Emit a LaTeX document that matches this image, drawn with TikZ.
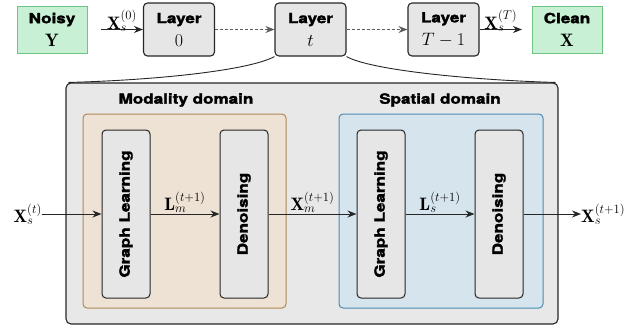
\documentclass[tikz,border=0pt]{standalone}
\usepackage{fix-cm}
\usepackage{fontspec}
\usepackage{amsmath}
\setsansfont[FakeStretch=1.22, BoldFeatures={FakeBold=2}]{TeX Gyre Heros}
\usetikzlibrary{arrows.meta}
\definecolor{gfill}{HTML}{C8F0D4}
\definecolor{gdraw}{HTML}{6CC485}
\definecolor{boxfill}{HTML}{E6E6E6}
\definecolor{bigfill}{HTML}{E8E8E8}
\definecolor{modfill}{HTML}{EDE2D3}
\definecolor{moddraw}{HTML}{B08A55}
\definecolor{spafill}{HTML}{D6E4EE}
\definecolor{spadraw}{HTML}{4B8BB5}
\definecolor{dk}{HTML}{262626}
\newcommand{\mth}[1]{\fontsize{18}{23}\selectfont$#1$}
\tikzset{
  lbl/.style={font=\sffamily\bfseries\fontsize{14}{23}\selectfont},
  greenbox/.style={draw=gdraw, fill=gfill, line width=1pt, minimum width=70pt, minimum height=47pt, inner sep=0pt, align=center, lbl},
  layerbox/.style={draw=dk, fill=boxfill, line width=1.1pt, rounded corners=4pt, minimum width=71pt, minimum height=53pt, inner sep=0pt, align=center, lbl},
  vbox/.style={draw=dk, fill=boxfill, line width=1pt, rounded corners=4pt, minimum width=48pt, minimum height=168pt, inner sep=0pt, lbl},
  domainbox/.style={line width=1pt, rounded corners=4pt, minimum width=203pt, minimum height=194pt, inner sep=0pt},
  arr/.style={-{Stealth[length=9pt,width=7pt]}, line width=0.9pt, draw=dk},
  darr/.style={-{Stealth[length=9pt,width=7pt]}, line width=1pt, draw=dk!75, densely dashed},
  mlbl/.style={inner sep=1pt},
}
\begin{document}
\begin{tikzpicture}[x=1pt,y=-1pt]
\useasboundingbox (0,0) rectangle (639,330);
% top row
\node[greenbox] (noisy) at (52,29.5) {Noisy\\\mth{\mathbf{Y}}};
\node[layerbox] (l0) at (179,29.5) {Layer\\\mth{0}};
\node[layerbox] (lt) at (310.5,29.5) {Layer\\\mth{t}};
\node[layerbox] (lT) at (443.5,29.5) {Layer\\\mth{T-1}};
\node[greenbox] (clean) at (567,29.5) {Clean\\\mth{\mathbf{X}}};
\coordinate (s0) at (101,29.5);
\coordinate (sT) at (522,29.5);
\draw[arr] (s0) -- (l0.west) node[mlbl, midway, above, yshift=-3pt] {\mth{\mathbf{X}_s^{(0)}}};
\draw[darr] (l0.east) -- (lt.west);
\draw[darr] (lt.east) -- (lT.west);
\draw[arr] (lT.east) -- (sT) node[mlbl, midway, above, yshift=-3pt] {\mth{\mathbf{X}_s^{(T)}}};
% big box
\node[draw=dk, fill=bigfill, line width=1.1pt, rounded corners=5pt, minimum width=492pt, minimum height=241pt, inner sep=0pt] (big) at (312,203.5) {};
\draw[dk, line width=0.9pt] (lt.south west) .. controls (250,70) and (160,80) .. ([xshift=3pt]big.north west);
\draw[dk, line width=0.9pt] (lt.south east) .. controls (370,70) and (470,80) .. ([xshift=-3pt]big.north east);
% domains
\node[lbl] (modlbl) at (186,100) {Modality domain};
\node[lbl] (spalbl) at (440,100) {Spatial domain};
\node[domainbox, draw=moddraw, fill=modfill] (mod) at (184.5,211) {};
\node[domainbox, draw=spadraw, fill=spafill, minimum width=204pt] (spa) at (441,211) {};
\node[vbox] (gl1) at (126,214) {\rotatebox{90}{Graph Learning}};
\node[vbox] (dn1) at (244,214) {\rotatebox{90}{Denoising}};
\node[vbox] (gl2) at (381,214) {\rotatebox{90}{Graph Learning}};
\node[vbox] (dn2) at (499,214) {\rotatebox{90}{Denoising}};
% io
\node[mlbl, anchor=east, inner sep=0pt] (xin) at (42,214) {\mth{\mathbf{X}_s^{(t)}}};
\node[mlbl, anchor=west, inner sep=0pt] (xout) at (581,214) {\mth{\mathbf{X}_s^{(t+1)}}};
\draw[arr] (xin.east) -- (gl1.west);
\draw[arr] (gl1.east) -- (dn1.west) node[mlbl, midway, above] {\mth{\mathbf{L}_m^{(t+1)}}};
\draw[arr] (dn1.east) -- (gl2.west) node[mlbl, midway, above] {\mth{\mathbf{X}_m^{(t+1)}}};
\draw[arr] (gl2.east) -- (dn2.west) node[mlbl, midway, above] {\mth{\mathbf{L}_s^{(t+1)}}};
\draw[arr] (dn2.east) -- (xout.west);
\end{tikzpicture}
\end{document}
